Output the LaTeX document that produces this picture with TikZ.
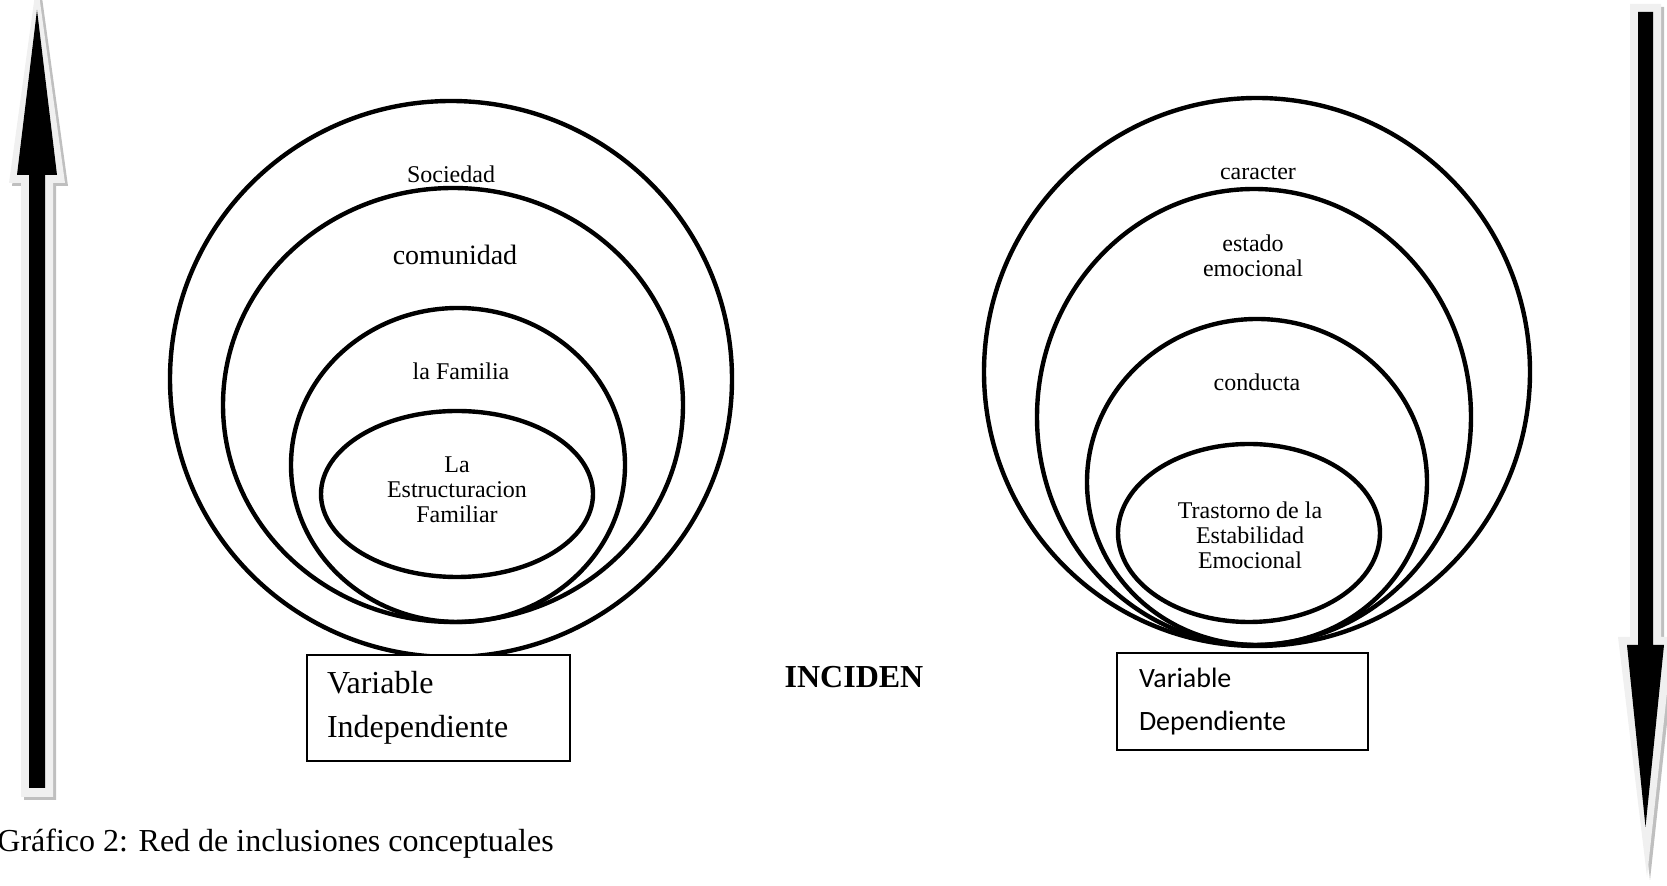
\documentclass[tikz,border=0pt]{standalone}
\usepackage{fontspec}
\setmainfont{Liberation Serif}
\newfontfamily\calibri{Carlito}
\usetikzlibrary{positioning}

\begin{document}
\begin{tikzpicture}[x=0.5pt, y=-0.5pt,
  ring/.style={line width=2.2pt},
  lbl/.style={font=\fontsize{12}{12.4}\selectfont, align=center, inner sep=0pt},
  varbox/.style={draw, line width=1pt, fill=white, align=left, inner xsep=10pt, inner ysep=0pt},
  glow/.style={fill=black!6},
  shade/.style={fill=black!25}]
  \useasboundingbox (0,0) rectangle (1667,886);

  % block arrow on the left, pointing up
  \fill[shade] (40,-17) -- (68,186) -- (56,186) -- (56,800) -- (24,800) -- (24,186) -- (12,186) -- cycle;
  \fill[glow] (37,-20) -- (65,183) -- (53,183) -- (53,797) -- (21,797) -- (21,183) -- (9,183) -- cycle;
  \fill (37,10) -- (57,175) -- (45,175) -- (45,788) -- (29,788) -- (29,175) -- (17,175) -- cycle;

  % block arrow on the right, pointing down
  \fill[shade] (1633,7) -- (1664,7) -- (1664,640) -- (1676,640) -- (1650,880) -- (1621,640) -- (1633,640) -- cycle;
  \fill[glow] (1630,4) -- (1661,4) -- (1661,637) -- (1673,637) -- (1647,877) -- (1618,637) -- (1630,637) -- cycle;
  \fill (1638,12) -- (1653,12) -- (1653,645) -- (1664,645) -- (1645.5,827) -- (1627,645) -- (1638,645) -- cycle;

  % independent variable
  \draw[ring] (451,379) ellipse [x radius=281, y radius=278];
  \draw[ring] (453,405) ellipse [x radius=230, y radius=217];
  \draw[ring] (458,465) ellipse [x radius=167, y radius=157];
  \draw[ring] (457,494) ellipse [x radius=136, y radius=83];
  \node[lbl] (soc) at (451,174) {Sociedad};
  \node[lbl, font=\fontsize{14}{16}\selectfont] (com) at (455,255) {comunidad};
  \node[lbl] (fam) at (461,371) {la Familia};
  \node[lbl] (estr) at (457,490) {La\\Estructuracion\\Familiar};

  % dependent variable
  \draw[ring] (1257,372) ellipse [x radius=273, y radius=274];
  \draw[ring] (1254,417) ellipse [x radius=217, y radius=228];
  \draw[ring] (1257,482) ellipse [x radius=170, y radius=163];
  \draw[ring] (1249,533) ellipse [x radius=131, y radius=89];
  \node[lbl] (car) at (1258,173) {caracter};
  \node[lbl] (emo) at (1253,256) {estado\\emocional};
  \node[lbl] (cond) at (1257,382) {conducta};
  \node[lbl] (tras) at (1250,535) {Trastorno de la\\Estabilidad\\Emocional};

  % boxes and captions
  \node[varbox, minimum width=131.5pt, minimum height=53pt, text width=111.5pt,
        font=\fontsize{16}{21.8}\selectfont] (vi) at (438.5,708) {Variable\\Independiente};
  \node[varbox, minimum width=125.5pt, minimum height=48.5pt, text width=103.5pt, inner xsep=11pt,
        font=\calibri\fontsize{14}{21.2}\selectfont] (vd) at (1242.5,701.5) {Variable\\Dependiente};
  \node[font=\bfseries\fontsize{16}{18}\selectfont, inner sep=0pt] (inc) at (854,677) {INCIDEN};
  \node[anchor=west, inner sep=0pt, font=\fontsize{16}{18}\selectfont] (cap) at (-3,844) {Gráfico 2: Red de inclusiones conceptuales};
\end{tikzpicture}
\end{document}
